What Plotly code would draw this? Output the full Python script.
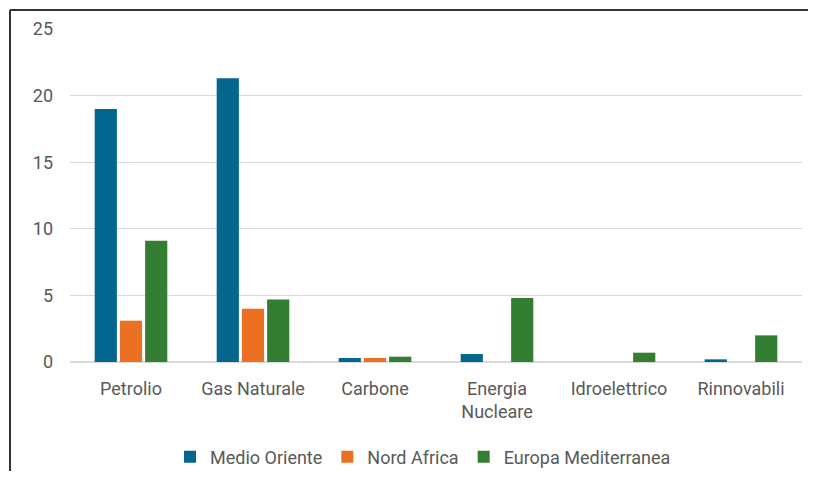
import plotly.graph_objects as go

categories = ["Petrolio", "Gas Naturale", "Carbone", "Energia<br>Nucleare", "Idroelettrico", "Rinnovabili"]
medio_oriente = [19.0, 21.3, 0.3, 0.6, 0.0, 0.2]
nord_africa = [3.1, 4.0, 0.3, 0.0, 0.0, 0.0]
europa_med = [9.1, 4.7, 0.4, 4.8, 0.7, 2.0]
y_ticks = [0, 5, 10, 15, 20, 25]

series = [
    ("Medio Oriente", medio_oriente, "#02668F"),
    ("Nord Africa", nord_africa, "#EC7022"),
    ("Europa Mediterranea", europa_med, "#347E34"),
]

fig = go.Figure()
for name, vals, col in series:
    fig.add_trace(go.Bar(x=categories, y=vals, name=name, marker_color=col,
                         marker_line_width=0))

# the page body has an 8px margin on every side
OFF = 8
W, H = 816 - 2 * OFF, 479 - 2 * OFF
L, T = 70 - OFF, 29 - OFF
R = W - (802 - OFF)
B = H - (362 - OFF)
pw, ph = W - L - R, H - T - B

def px_x(p):
    return (p - OFF - L) / pw

def px_y(p):
    return (H - B - (p - OFF)) / ph

fig.update_layout(
    width=W, height=H,
    margin=dict(l=L, r=R, t=T, b=B, autoexpand=False),
    paper_bgcolor="white", plot_bgcolor="white",
    barmode="group", bargap=0.38, bargroupgap=0.12,
    font=dict(family="Roboto, 'Open Sans', sans-serif", size=18, color="#595959"),
    xaxis=dict(showgrid=False, showline=True, linecolor="#d9d9d9", linewidth=1,
               automargin=False,
               ticks="", ticklabelstandoff=10, tickfont=dict(size=18, color="#595959")),
    yaxis=dict(range=[0, 25], tickvals=y_ticks, showgrid=True, gridcolor="#d9d9d9",
               gridwidth=1, zeroline=True, zerolinecolor="#d9d9d9", showline=False,
               automargin=False,
               ticks="", ticklabelstandoff=16, tickfont=dict(size=18, color="#595959")),
    legend=dict(orientation="h", x=px_x(423), xanchor="center", y=px_y(457),
                yanchor="middle", font=dict(size=18, color="#595959"),
                itemwidth=30, traceorder="normal"),
    showlegend=True,
)

# chart frame (left and top edges visible in the reference)
fig.add_shape(type="line", xref="paper", yref="paper",
              x0=px_x(10), x1=px_x(10), y0=px_y(500), y1=px_y(10),
              line=dict(color="#333333", width=2))
fig.add_shape(type="line", xref="paper", yref="paper",
              x0=px_x(10), x1=px_x(840), y0=px_y(10), y1=px_y(10),
              line=dict(color="#333333", width=2))

fig.write_html("out.html")
